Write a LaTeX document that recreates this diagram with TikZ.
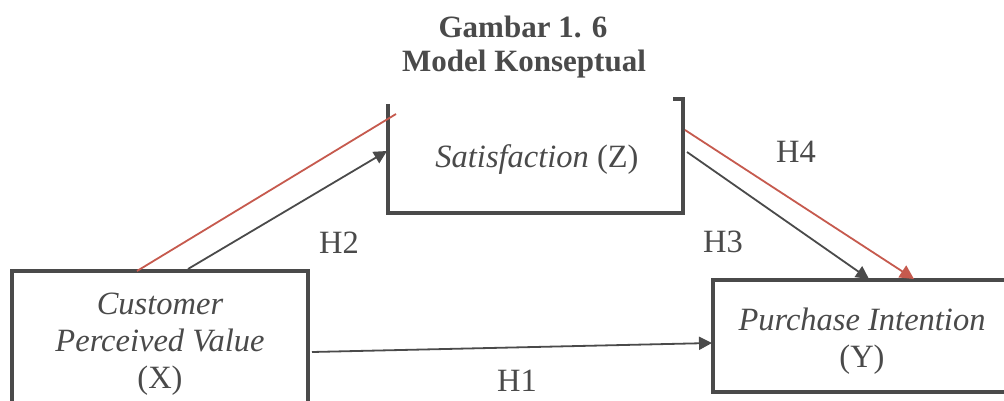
\documentclass[tikz,border=0pt]{standalone}
\usepackage{fontspec}
\setmainfont{Liberation Serif}
\usetikzlibrary{arrows.meta}
\definecolor{ink}{HTML}{4A4A4A}
\definecolor{redl}{HTML}{C65A4E}
\begin{document}
\begin{tikzpicture}[x=1pt,y=-1pt,
  box/.style={line width=4.5pt, draw=ink},
  lbl/.style={font=\fontsize{32.5}{37}\selectfont, text=ink, align=center, inner sep=0pt},
  ttl/.style={font=\fontsize{31}{37}\selectfont\bfseries, text=ink, align=center, inner sep=0pt},
  conn/.style={line width=1.8pt, draw=ink, -{Triangle[length=13pt,width=13pt]}},
  rconn/.style={line width=1.8pt, draw=redl},
  rarrow/.style={line width=1.8pt, draw=redl, -{Triangle[length=14pt,width=14pt]}}]
\useasboundingbox (0,0) rectangle (1004,401);
\fill[white] (0,0) rectangle (1004,401);
% title
\node[ttl] (t1) at (523,27) {Gambar 1. 6};
\node[ttl] (t2) at (524,64) {Model Konseptual};
% boxes (open frames)
\draw[box] (12,420) -- (12,271) -- (308,271) -- (308,420);
\draw[box] (388,104) -- (388,213) -- (683,213) -- (683,99) -- (673,99);
\draw[box] (1020,280) -- (713,280) -- (713,392) -- (1020,392);
% texts
\node[lbl] (X) at (160,344) {\textit{Customer}\\\textit{Perceived Value}\\(X)};
\node[lbl] (Z) at (537,160) {\textit{Satisfaction} (Z)};
\node[lbl] (Y) at (862,341) {\textit{Purchase Intention}\\(Y)};
% connector end points
\coordinate (x2) at (188,269);
\coordinate (z2) at (387,151);
\coordinate (xr) at (137,271);
\coordinate (zr) at (396,114);
\coordinate (z3) at (687,152);
\coordinate (y3) at (869,279);
\coordinate (z4) at (685,130);
\coordinate (y4) at (914,279);
\coordinate (x1) at (312,352);
\coordinate (y1) at (712,343);
% connectors
\draw[rconn] (xr) -- (zr);
\draw[conn] (x2) -- (z2);
\draw[conn] (z3) -- (y3);
\draw[rarrow] (z4) -- (y4);
\draw[conn] (x1) -- (y1);
% hypothesis labels
\node[lbl] (h2) at (339,243) {H2};
\node[lbl] (h3) at (723,242) {H3};
\node[lbl] (h4) at (796,152) {H4};
\node[lbl] (h1) at (517,381) {H1};
\end{tikzpicture}
\end{document}
